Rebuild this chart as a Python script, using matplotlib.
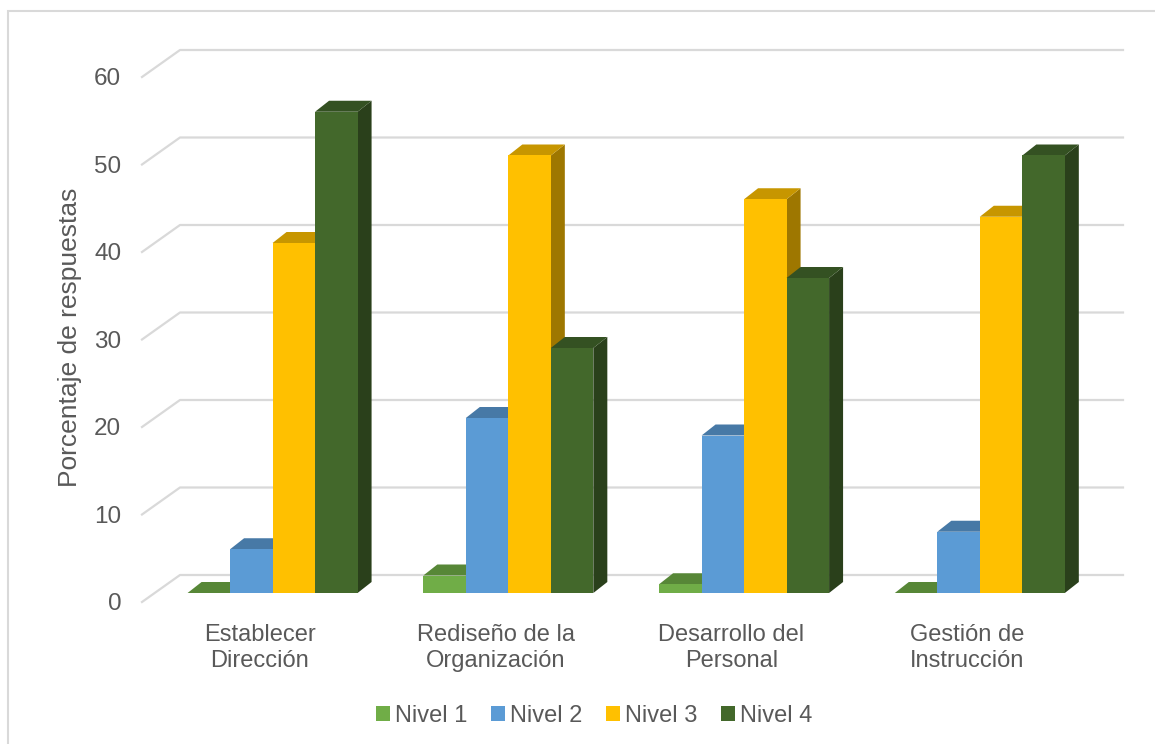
import matplotlib
matplotlib.use("Agg")
import matplotlib.pyplot as plt
from matplotlib.patches import Polygon, Rectangle
from matplotlib.colors import to_rgb

categories = ["Establecer\nDirección", "Rediseño de la\nOrganización",
              "Desarrollo del\nPersonal", "Gestión de\nInstrucción"]
series = ["Nivel 1", "Nivel 2", "Nivel 3", "Nivel 4"]
nivel1 = [0, 2, 1, 0]
nivel2 = [5, 20, 18, 7]
nivel3 = [40, 50, 45, 43]
nivel4 = [55, 28, 36, 50]
colors = ["#70AD47", "#5B9BD5", "#FFC000", "#43682B"]
yticks = [0, 10, 20, 30, 40, 50, 60]

plt.rcParams["font.family"] = ["Liberation Sans", "DejaVu Sans"]
TXT = "#595959"
GRID = "#D9D9D9"


def shade(c, f):
    r, g, b = to_rgb(c)
    return (r * f, g * f, b * f)


fig = plt.figure(figsize=(11.55, 7.44), dpi=100)
W, H = 1155, 744
# front plane of the pseudo-3d box: x 142..1085 px, value 0 at 602 px, 60 at 77 px
ax = fig.add_axes([142 / W, 1 - 602 / H, (1085 - 142) / W, (602 - 77) / H])
ax.set_xlim(-0.5, 3.5)
ax.set_ylim(0, 60)
ax.patch.set_alpha(0)
for s in ax.spines.values():
    s.set_visible(False)

px_x = 943 / 4.0        # pixels per category
px_y = 525 / 60.0       # pixels per value unit
wall_dx, wall_dy = 38 / px_x, 27 / px_y
front_dx, front_dy = 12.7 / px_x, 9 / px_y
bar_dx, bar_dy = 14 / px_x, 11 / px_y
bar_w = 42.5 / px_x

# grid: diagonal on side wall + line on back wall
for v in yticks:
    ax.plot([-0.5, -0.5 + wall_dx, 3.5 + wall_dx], [v, v + wall_dy, v + wall_dy],
            color=GRID, lw=1.6, clip_on=False, zorder=1)

data = [nivel1, nivel2, nivel3, nivel4]
for i in range(len(categories)):
    for j, vals in enumerate(data):
        v = vals[i]
        x0 = i - 2 * bar_w + j * bar_w + front_dx
        y0 = front_dy
        x1 = x0 + bar_w
        y1 = y0 + v
        c = colors[j]
        side = Polygon([(x1, y0), (x1 + bar_dx, y0 + bar_dy), (x1 + bar_dx, y1 + bar_dy), (x1, y1)],
                       closed=True, fc=shade(c, 0.62), ec="none", clip_on=False, zorder=2)
        top = Polygon([(x0, y1), (x0 + bar_dx, y1 + bar_dy), (x1 + bar_dx, y1 + bar_dy), (x1, y1)],
                      closed=True, fc=shade(c, 0.78), ec="none", clip_on=False, zorder=2)
        front = Rectangle((x0, y0), bar_w, v, fc=c, ec="none", clip_on=False, zorder=2)
        ax.add_patch(side)
        ax.add_patch(top)
        ax.add_patch(front)

ax.set_yticks(yticks)
ax.set_yticklabels([str(t) for t in yticks])
ax.set_xticks(range(len(categories)))
ax.set_xticklabels(categories, linespacing=1.2)
ax.tick_params(axis="y", length=0, pad=15, labelsize=17.5, labelcolor=TXT)
ax.tick_params(axis="x", length=0, pad=16, labelsize=17, labelcolor=TXT)
ax.set_ylabel("Porcentaje de respuestas", fontsize=19, color=TXT)
ax.yaxis.set_label_coords(-60 / 943, 0.505)

handles = [Rectangle((0, 0), 1, 1, fc=c, ec="none") for c in colors]
fig.legend(handles, series, loc="center", bbox_to_anchor=(594 / W, 1 - 716 / H), ncol=4,
           frameon=False, fontsize=17, handlelength=0.6, handleheight=0.6,
           handletextpad=0.2, columnspacing=1.0, labelcolor=TXT)

# chart area border
fig.patches.append(Rectangle((8 / W, -0.05), 1.1, 1 - 11 / H + 0.05, transform=fig.transFigure,
                             fill=False, ec=GRID, lw=1.5))

fig.savefig("out.png", dpi=100, facecolor="white")
